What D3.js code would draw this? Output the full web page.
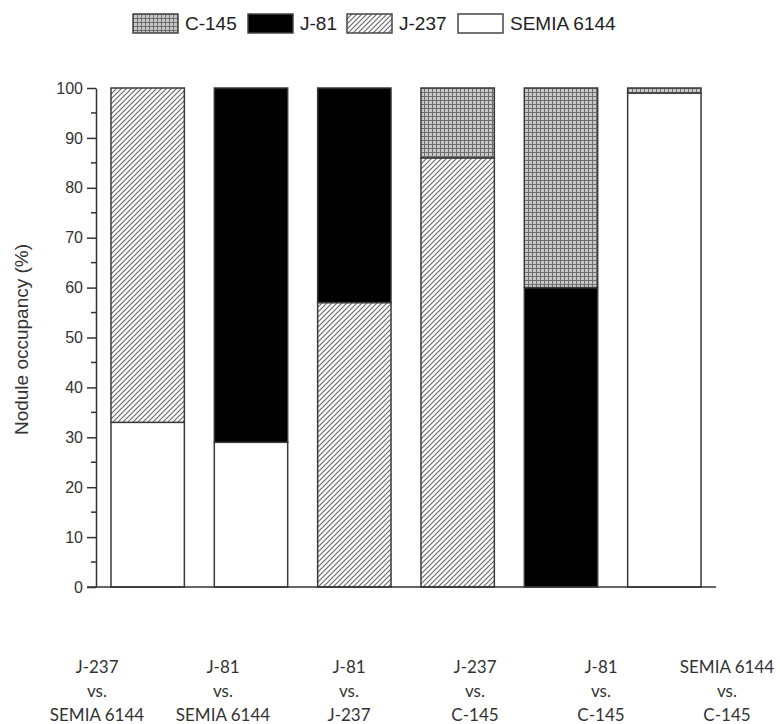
<!DOCTYPE html>
<html>
<head>
<meta charset="utf-8">
<script src="https://cdn.jsdelivr.net/npm/d3@7"></script>
<style>
  body { margin: 0; background: #fff; }
  svg { display: block; }
</style>
</head>
<body>
<script>
const svgWidth = 780;
const svgHeight = 724;

// data (percent)
const pairs = ['J-237|vs.|SEMIA 6144', 'J-81|vs.|SEMIA 6144', 'J-81|vs.|J-237',
               'J-237|vs.|C-145', 'J-81|vs.|C-145', 'SEMIA 6144|vs.|C-145'];
const strains = ['SEMIA 6144', 'J-237', 'J-81', 'C-145'];   // bottom to top
const semia = [33, 29, 0, 0, 0, 99];
const j237  = [67, 0, 57, 86, 0, 0];
const j81   = [0, 71, 43, 0, 60, 0];
const c145  = [0, 0, 0, 14, 40, 1];
const legendOrder = ['C-145', 'J-81', 'J-237', 'SEMIA 6144'];
const yTicks = [0, 10, 20, 30, 40, 50, 60, 70, 80, 90, 100];

const rows = pairs.map((p, i) => ({
  pair: p, 'SEMIA 6144': semia[i], 'J-237': j237[i], 'J-81': j81[i], 'C-145': c145[i]
}));

const svg = d3.select('body')
              .append('svg')
              .attr('width', svgWidth)
              .attr('height', svgHeight);

// patterns
const defs = svg.append('defs');
const hatch = defs.append('pattern')
                  .attr('id', 'hatch')
                  .attr('patternUnits', 'userSpaceOnUse')
                  .attr('width', 5).attr('height', 5);
hatch.append('rect').attr('width', 5).attr('height', 5).attr('fill', '#fff');
hatch.append('path')
     .attr('d', 'M-1,1 l2,-2 M0,5 l5,-5 M4,6 l2,-2')
     .attr('stroke', '#666').attr('stroke-width', 1.1);

const grid = defs.append('pattern')
                 .attr('id', 'grid')
                 .attr('patternUnits', 'userSpaceOnUse')
                 .attr('width', 4).attr('height', 4);
grid.append('rect').attr('width', 4).attr('height', 4).attr('fill', '#c8c8c8');
grid.append('path')
    .attr('d', 'M0,0.5 h4 M0.5,0 v4')
    .attr('stroke', '#6e6e6e').attr('stroke-width', 1);

const fills = {
  'C-145': 'url(#grid)',
  'J-81': '#000',
  'J-237': 'url(#hatch)',
  'SEMIA 6144': '#fff'
};

const x = d3.scaleBand()
            .domain(pairs)
            .range([96, 716])
            .paddingInner(0.29)
            .paddingOuter(0.145);

const y = d3.scaleLinear()
            .domain([0, 100])
            .range([587, 88]);

const stacked = d3.stack().keys(strains)(rows);

svg.append('g')
   .selectAll('g')
   .data(stacked)
   .enter()
   .append('g')
   .attr('fill', d => fills[d.key])
   .selectAll('rect')
   .data(d => d.filter(s => s[1] - s[0] > 0))
   .enter()
   .append('rect')
   .attr('x', d => x(d.data.pair))
   .attr('y', d => y(d[1]))
   .attr('width', x.bandwidth())
   .attr('height', d => y(d[0]) - y(d[1]))
   .attr('stroke', '#3a3a3a')
   .attr('stroke-width', 1.5);

// y axis
const yAxis = svg.append('g')
                 .attr('transform', 'translate(96,0)')
                 .call(d3.axisLeft(y).tickValues(yTicks).tickSize(9).tickPadding(4).tickSizeOuter(0));
yAxis.select('.domain').attr('stroke', '#333').attr('stroke-width', 1.5);
yAxis.selectAll('.tick line').attr('stroke', '#333').attr('stroke-width', 1.5);
yAxis.selectAll('.tick text')
     .attr('font-family', 'Liberation Sans, Arial, sans-serif')
     .attr('font-size', 16)
     .attr('fill', '#333');

// minor ticks
svg.append('g')
   .selectAll('line')
   .data(d3.range(5, 100, 10))
   .enter()
   .append('line')
   .attr('x1', 91).attr('x2', 96)
   .attr('y1', d => y(d)).attr('y2', d => y(d))
   .attr('stroke', '#333').attr('stroke-width', 1.5);

// x axis line
svg.append('line')
   .attr('x1', 87).attr('x2', 716)
   .attr('y1', y(0)).attr('y2', y(0))
   .attr('stroke', '#333').attr('stroke-width', 1.5);

svg.append('text')
   .attr('transform', 'translate(28,' + (y(50) + 2) + ') rotate(-90)')
   .attr('text-anchor', 'middle')
   .attr('font-family', 'Liberation Sans, Arial, sans-serif')
   .attr('font-size', 19)
   .attr('fill', '#333')
   .text('Nodule occupancy (%)');

// category labels sit below, on their own spacing
const xl = d3.scalePoint()
             .domain(pairs)
             .range([97, 727]);

const labels = svg.append('g')
                  .selectAll('text')
                  .data(pairs)
                  .enter()
                  .append('text')
                  .attr('text-anchor', 'middle')
                  .attr('font-family', 'Lato, Open Sans, sans-serif')
                  .attr('font-size', 17)
                  .attr('fill', '#333');
labels.selectAll('tspan')
      .data(d => d.split('|').map(t => ({ t: t, p: d })))
      .enter()
      .append('tspan')
      .attr('x', d => xl(d.p))
      .attr('y', (d, i) => 673 + i * 24)
      .text(d => d.t);

// legend
const legendX = [133, 248, 347, 458];
const legend = svg.append('g')
                  .selectAll('g')
                  .data(legendOrder)
                  .enter()
                  .append('g')
                  .attr('transform', (d, i) => 'translate(' + legendX[i] + ',14)');
legend.append('rect')
      .attr('width', 45).attr('height', 19)
      .attr('fill', d => fills[d])
      .attr('stroke', '#444').attr('stroke-width', 1.5);
legend.append('text')
      .attr('x', 52).attr('y', 16)
      .attr('font-family', 'Liberation Sans, Arial, sans-serif')
      .attr('font-size', 19)
      .attr('fill', '#222')
      .text(d => d);
</script>
</body>
</html>
